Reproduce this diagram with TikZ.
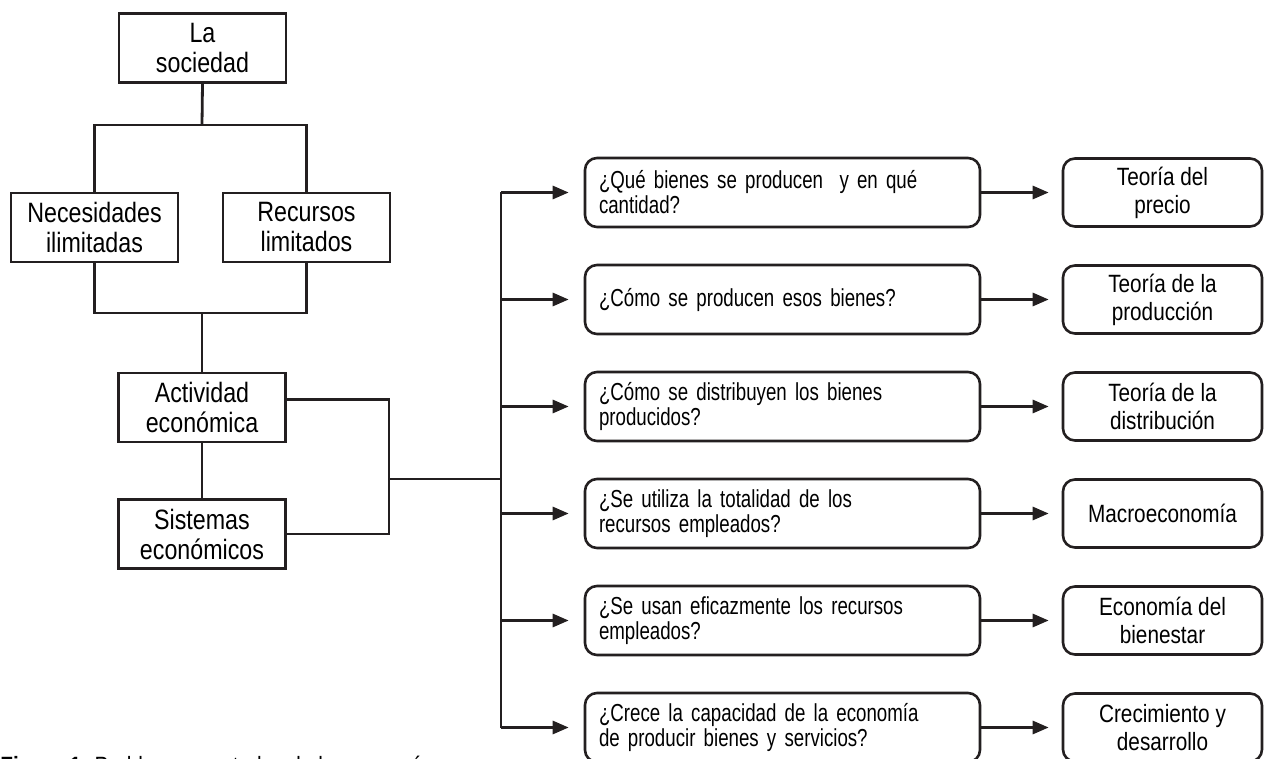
\documentclass[tikz,border=0pt]{standalone}
\usepackage{fontspec}
\setmainfont[FakeStretch=0.83]{Liberation Sans}
\newfontfamily\askfont[FakeStretch=0.76]{Liberation Sans}
\usepackage{xcolor}
\usepackage{tikz}
\usetikzlibrary{arrows.meta,positioning}
\definecolor{ink}{HTML}{231F20}
\tikzset{
  plainbox/.style={draw=ink,line width=1.4pt,minimum width=83.5pt,minimum height=34.5pt,
    inner sep=2pt,align=center,font=\fontsize{14}{15}\selectfont},
  askbox/.style={draw=ink,line width=1.3pt,rounded corners=6pt,text width=183.5pt,
    inner xsep=7pt,minimum height=34.5pt,align=left,font=\askfont\fontsize{12.3}{12.5}\selectfont},
  topicbox/.style={draw=ink,line width=1.3pt,rounded corners=6pt,minimum width=99.5pt,
    minimum height=34pt,inner sep=2pt,align=center,font=\fontsize{12.5}{14}\selectfont},
  link/.style={draw=ink,line width=1.4pt},
  feed/.style={link,-{Triangle[length=8pt,width=6.5pt]}}
}

\begin{document}
\begin{tikzpicture}[x=.5pt,y=-.5pt]
  \useasboundingbox (0,0) rectangle (1265,759);
  \clip (0,0) rectangle (1265,759);
  % left column
  \node[plainbox] (soc) at (202.5,48) {La\\sociedad};
  \node[plainbox] (nec) at (94.5,227.5) {Necesidades\\ilimitadas};
  \node[plainbox] (rec) at (306.5,227.5) {Recursos\\limitados};
  \node[plainbox] (act) at (202,407.5) {Actividad\\económica};
  \node[plainbox] (sis) at (202,534) {Sistemas\\económicos};
  \coordinate (up) at (202,125);
  \coordinate (down) at (202,313);
  \coordinate (jn) at (389,479);
  \coordinate (tr) at (501,479);
  \draw[link] (soc.south) -- (up);
  \draw[link] (nec.north) |- (up) -| (rec.north);
  \draw[link] (nec.south) |- (down) -| (rec.south);
  \draw[link] (down) -- (act.north);
  \draw[link] (act.south) -- (sis.north);
  \draw[link] ([yshift=4pt]act.east) -| (jn) |- (sis.east);
  \draw[link] (jn) -- (tr);
  % questions and topics
  \foreach \ask/\topic [count=\i] in {
    {¿Qué bienes se producen \ y en qué\\cantidad?}/{Teoría del\\precio},
    {¿Cómo se producen esos bienes?}/{Teoría de la\\producción},
    {¿Cómo se distribuyen los bienes\\producidos?}/{Teoría de la\\distribución},
    {¿Se utiliza la totalidad de los\\recursos empleados?}/{Macroeconomía},
    {¿Se usan eficazmente los recursos\\empleados?}/{Economía del\\bienestar},
    {¿Crece la capacidad de la economía\\de producir bienes y servicios?}/{Crecimiento y\\desarrollo}}
  {
    \node[askbox] (q\i) at (782.5,{192.5+107*(\i-1)}) {\ask};
    \node[topicbox] (t\i) at (1162.5,{192.5+107*(\i-1)}) {\topic};
    \draw[feed,shorten >=6.5pt] (q\i) -- (t\i);
    \draw[feed,shorten >=7.5pt] (q\i.west -| tr) -- (q\i.west);
  }
  \draw[link] (q1.west -| tr) -- (q6.west -| tr);
  % caption, cut by the page edge
  \node[anchor=north west,inner sep=0pt,font=\fontsize{12.5}{14}\selectfont] (cap) at (0,756)
    {\textbf{Figura 1.} Problemas centrales de la economía};
\end{tikzpicture}
\end{document}
